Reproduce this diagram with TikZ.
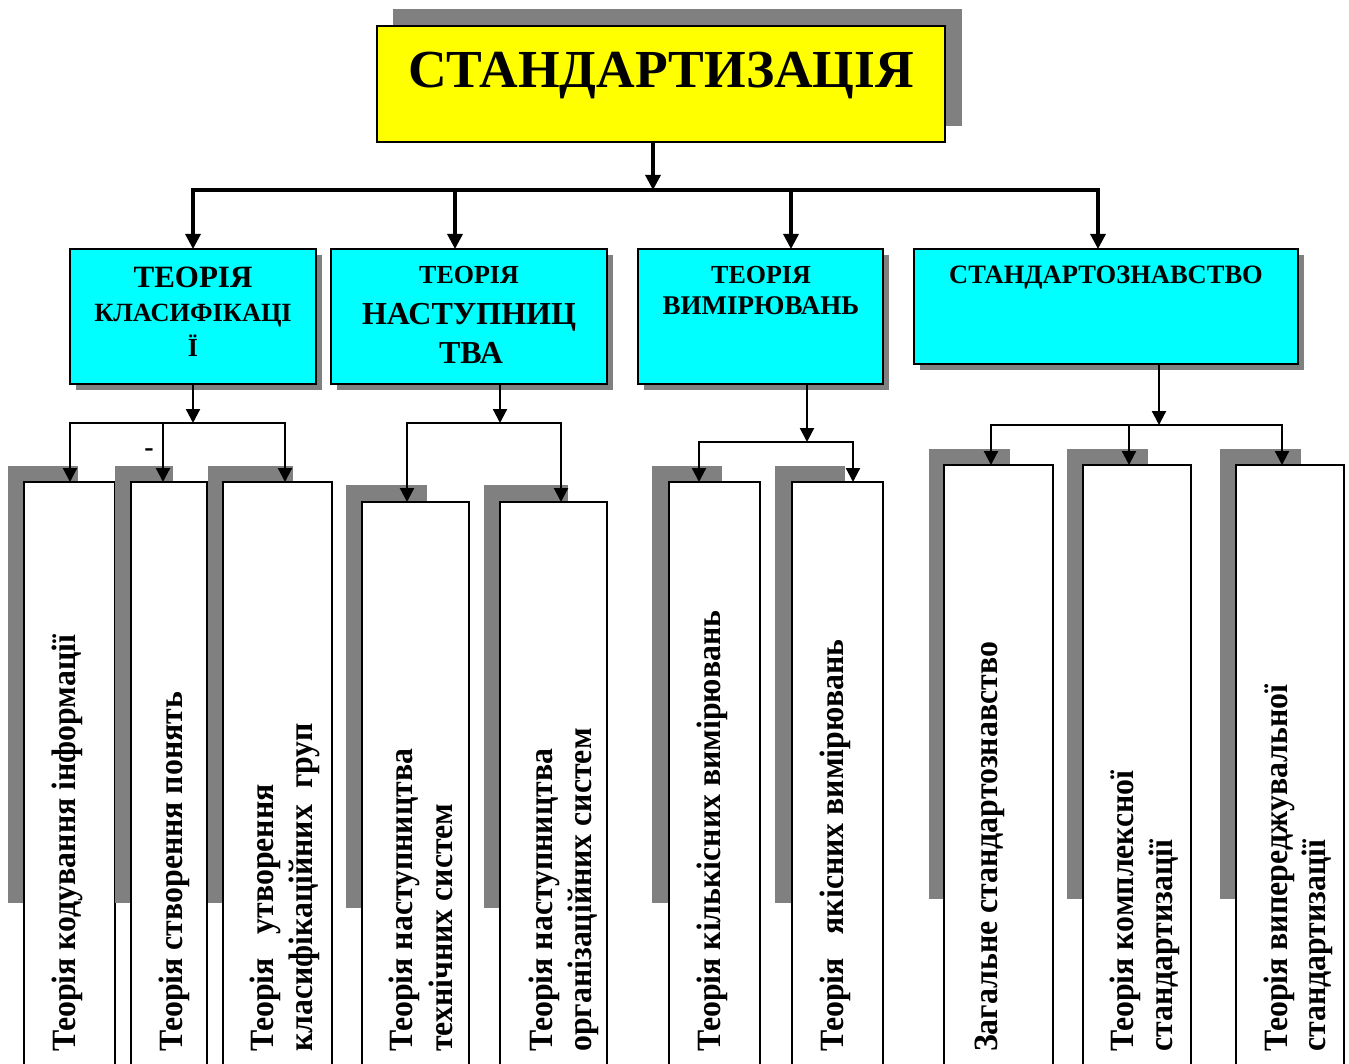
\documentclass[tikz,border=0pt]{standalone}
\usepackage{fontspec}
\setmainfont{Liberation Serif}
\usetikzlibrary{arrows.meta}
\definecolor{shadegray}{HTML}{808080}
\definecolor{rootyellow}{HTML}{FFFF00}
\definecolor{topiccyan}{HTML}{00FFFF}
% vertical captions: slightly condensed bold serif
\newcommand{\leafcap}[1]{\scalebox{0.935}[1]{#1}}

\begin{document}
\begin{tikzpicture}[x=1pt,y=-1pt,
  shadow/.style={fill=shadegray},
  rootbox/.style={draw,line width=2pt,fill=rootyellow,inner sep=0pt,outer sep=0pt,anchor=north west},
  topicbox/.style={draw,line width=2.5pt,fill=topiccyan,inner sep=0pt,outer sep=0pt,anchor=north west},
  leafbox/.style={draw,line width=2pt,fill=white,inner sep=0pt,outer sep=0pt,anchor=north west},
  busarr/.style={line width=3.2pt,-{Triangle[length=15pt,width=15pt]}},
  subarr/.style={line width=2.2pt,-{Triangle[length=14pt,width=14pt]}},
  label/.style={anchor=base,inner sep=0pt,font=\bfseries},
  leaftext/.style={rotate=90,anchor=base west,inner sep=0pt,font=\fontsize{34}{39}\selectfont\bfseries}]

\useasboundingbox (0,0) rectangle (1349,1064);
\clip (0,0) rectangle (1349,1064);

% ---- root ----
\fill[shadow] (393,9) rectangle (962,126);
\node[rootbox,minimum width=568pt,minimum height=116pt] (root) at (377,26) {};
\node[label,font=\fontsize{53.5}{60}\selectfont\bfseries] (roottext) at (661,88) {СТАНДАРТИЗАЦІЯ};

% ---- topic boxes ----
\fill[shadow] (76,255) rectangle (322,390);
\node[topicbox,minimum width=246pt,minimum height=135pt] (topic1) at (70,249) {};
\fill[shadow] (337,255) rectangle (613,390);
\node[topicbox,minimum width=276pt,minimum height=135pt] (topic2) at (331,249) {};
\fill[shadow] (644,255) rectangle (889,390);
\node[topicbox,minimum width=245pt,minimum height=135pt] (topic3) at (638,249) {};
\fill[shadow] (920,255) rectangle (1304,370);
\node[topicbox,minimum width=384pt,minimum height=115pt] (topic4) at (914,249) {};

\node[label,font=\fontsize{31}{31}\selectfont\bfseries] (t1a) at (193,288) {ТЕОРІЯ};
\node[label,font=\fontsize{26.3}{26}\selectfont\bfseries] (t1b) at (193,322) {КЛАСИФІКАЦІ};
\node[label,font=\fontsize{26}{26}\selectfont\bfseries] (t1c) at (193,357) {Ї};

\node[label,font=\fontsize{26}{26}\selectfont\bfseries] (t2a) at (469,284) {ТЕОРІЯ};
\node[label,font=\fontsize{32}{32}\selectfont\bfseries] (t2b) at (469,325) {НАСТУПНИЦ};
\node[label,font=\fontsize{32}{32}\selectfont\bfseries] (t2c) at (471,363) {ТВА};

\node[label,font=\fontsize{26}{26}\selectfont\bfseries] (t3a) at (761,284) {ТЕОРІЯ};
\node[label,font=\fontsize{27}{27}\selectfont\bfseries] (t3b) at (761,315) {ВИМІРЮВАНЬ};

\node[label,font=\fontsize{26.5}{26.5}\selectfont\bfseries] (t4a) at (1106,284) {СТАНДАРТОЗНАВСТВО};

% ---- bus from root to topics ----
\coordinate (b0) at (653,190);
\coordinate (b1) at (193,190);
\coordinate (b2) at (455,190);
\coordinate (b3) at (791,190);
\coordinate (b4) at (1098,190);
\draw[busarr] (root.south -| b0) -- (b0);
\draw[busarr] (b0) -- (b1) -- (b1 |- topic1.north);
\draw[busarr] (b0) -- (b4) -- (b4 |- topic4.north);
\draw[busarr] (b2) -- (b2 |- topic2.north);
\draw[busarr] (b3) -- (b3 |- topic3.north);

% ---- leaf boxes ----
\fill[shadow] (8,466) rectangle (78,903);
\node[leafbox,minimum width=91pt,minimum height=600pt] (leafA) at (24,482) {};
\fill[shadow] (115,466) rectangle (173,903);
\node[leafbox,minimum width=76pt,minimum height=600pt] (leafB) at (131,482) {};
\fill[shadow] (208,466) rectangle (293,903);
\node[leafbox,minimum width=109pt,minimum height=600pt] (leafC) at (223,482) {};

\fill[shadow] (346,485) rectangle (427,908);
\node[leafbox,minimum width=107pt,minimum height=600pt] (leafD) at (362,502) {};
\fill[shadow] (484,485) rectangle (568,908);
\node[leafbox,minimum width=107pt,minimum height=600pt] (leafE) at (500,502) {};

\fill[shadow] (652,466) rectangle (722,903);
\node[leafbox,minimum width=91pt,minimum height=600pt] (leafF) at (669,482) {};
\fill[shadow] (775,466) rectangle (845,903);
\node[leafbox,minimum width=91pt,minimum height=600pt] (leafG) at (792,482) {};

\fill[shadow] (929,449) rectangle (1010,899);
\node[leafbox,minimum width=109pt,minimum height=620pt] (leafH) at (944,465) {};
\fill[shadow] (1067,449) rectangle (1148,899);
\node[leafbox,minimum width=108pt,minimum height=620pt] (leafI) at (1083,465) {};
\fill[shadow] (1220,449) rectangle (1301,899);
\node[leafbox,minimum width=108pt,minimum height=620pt] (leafJ) at (1236,465) {};

% ---- branches from topics to leaves ----
\coordinate (g1) at (193,423);
\coordinate (dA) at (70,423);
\coordinate (dB) at (163,423);
\coordinate (dC) at (285,423);
\draw[subarr] (topic1.south) -- (g1);
\draw[subarr] (dB) -- (dA) -- (dA |- leafA.north);
\draw[subarr] (dB) -- (dB |- leafB.north);
\draw[subarr] (dB) -- (dC) -- (dC |- leafC.north);
\node[label,font=\fontsize{28}{28}\selectfont\bfseries] (dashmark) at (149,456) {-};

\coordinate (g2) at (500,423);
\coordinate (dD) at (407,423);
\coordinate (dE) at (561,423);
\draw[subarr] (g2 |- topic2.south) -- (g2);
\draw[subarr] (g2) -- (dD) -- (dD |- leafD.north);
\draw[subarr] (g2) -- (dE) -- (dE |- leafE.north);

\coordinate (g3) at (807,442);
\coordinate (dF) at (699,442);
\coordinate (dG) at (853,442);
\draw[subarr] (g3 |- topic3.south) -- (g3);
\draw[subarr] (g3) -- (dF) -- (dF |- leafF.north);
\draw[subarr] (g3) -- (dG) -- (dG |- leafG.north);

\coordinate (g4) at (1159,425);
\coordinate (dH) at (991,425);
\coordinate (dI) at (1129,425);
\coordinate (dJ) at (1282,425);
\draw[subarr] (g4 |- topic4.south) -- (g4);
\draw[subarr] (dI) -- (dH) -- (dH |- leafH.north);
\draw[subarr] (dI) -- (dI |- leafI.north);
\draw[subarr] (dI) -- (dJ) -- (dJ |- leafJ.north);

% ---- leaf captions (vertical) ----
\node[leaftext] (lA) at (75,1052) {\leafcap{Теорія кодування інформації}};
\node[leaftext] (lB) at (182,1052) {\leafcap{Теорія створення понять}};
\node[leaftext] (lC1) at (273,1052) {\leafcap{Теорія\ \ \ утворення}};
\node[leaftext] (lC2) at (312,1052) {\leafcap{класифікаційних\ \ груп}};
\node[leaftext] (lD1) at (412,1052) {\leafcap{Теорія наступництва}};
\node[leaftext] (lD2) at (452,1052) {\leafcap{технічних систем}};
\node[leaftext] (lE1) at (552,1052) {\leafcap{Теорія наступництва}};
\node[leaftext] (lE2) at (591,1052) {\leafcap{організаційних систем}};
\node[leaftext] (lF) at (720,1052) {\leafcap{Теорія кількісних вимірювань}};
\node[leaftext] (lG) at (843,1052) {\leafcap{Теорія\ \ \ якісних вимірювань}};
\node[leaftext] (lH) at (997,1052) {\leafcap{Загальне стандартознавство}};
\node[leaftext] (lI1) at (1133,1052) {\leafcap{Теорія комплексної}};
\node[leaftext] (lI2) at (1172,1052) {\leafcap{стандартизації}};
\node[leaftext] (lJ1) at (1287,1052) {\leafcap{Теорія випереджувальної}};
\node[leaftext] (lJ2) at (1325,1052) {\leafcap{стандартизації}};

\end{tikzpicture}
\end{document}
